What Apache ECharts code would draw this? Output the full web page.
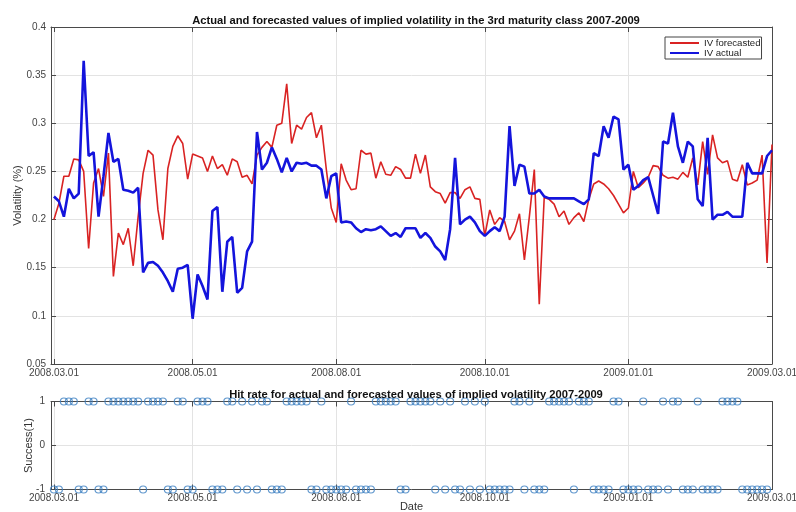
<!DOCTYPE html>
<html>
<head>
<meta charset="utf-8">
<script src="https://cdn.jsdelivr.net/npm/echarts@6/dist/echarts.min.js"></script>
<style>
  html, body { margin: 0; padding: 0; background: #ffffff; }
  #chart { width: 796px; height: 512px; }
</style>
</head>
<body>
<div id="chart"></div>
<script>
// Implied volatility, 3rd maturity class: forecast vs actual, one value per observation
const ivForecasted = [
  0.200, 0.217, 0.245, 0.245, 0.263, 0.262, 0.250, 0.170, 0.238, 0.253,
  0.224, 0.269, 0.141, 0.186, 0.174, 0.191, 0.152, 0.203, 0.248, 0.272,
  0.267, 0.210, 0.179, 0.253, 0.276, 0.287, 0.279, 0.242, 0.268, 0.266,
  0.264, 0.250, 0.266, 0.253, 0.257, 0.246, 0.263, 0.260, 0.244, 0.246,
  0.237, 0.267, 0.275, 0.281, 0.275, 0.298, 0.300, 0.341, 0.279, 0.298,
  0.294, 0.306, 0.311, 0.285, 0.298, 0.252, 0.212, 0.197, 0.258, 0.241,
  0.231, 0.232, 0.272, 0.268, 0.269, 0.243, 0.260, 0.247, 0.246, 0.255,
  0.252, 0.243, 0.243, 0.268, 0.248, 0.267, 0.234, 0.229, 0.227, 0.217,
  0.228, 0.228, 0.222, 0.231, 0.234, 0.222, 0.221, 0.183, 0.210, 0.195,
  0.202, 0.198, 0.179, 0.188, 0.206, 0.158, 0.203, 0.252, 0.112, 0.223,
  0.221, 0.216, 0.203, 0.209, 0.195, 0.202, 0.207, 0.198, 0.221, 0.237,
  0.240, 0.237, 0.232, 0.225, 0.216, 0.207, 0.212, 0.250, 0.233, 0.238,
  0.244, 0.256, 0.255, 0.246, 0.243, 0.244, 0.242, 0.249, 0.244, 0.264,
  0.236, 0.281, 0.247, 0.288, 0.264, 0.259, 0.261, 0.242, 0.240, 0.257,
  0.236, 0.238, 0.241, 0.267, 0.155, 0.278
];
const ivActual = [
  0.224, 0.219, 0.203, 0.232, 0.222, 0.227, 0.365, 0.266, 0.270, 0.203,
  0.245, 0.290, 0.260, 0.263, 0.231, 0.230, 0.228, 0.233, 0.145, 0.155,
  0.156, 0.152, 0.145, 0.136, 0.125, 0.149, 0.150, 0.153, 0.097, 0.143,
  0.131, 0.117, 0.209, 0.213, 0.125, 0.177, 0.182, 0.124, 0.129, 0.167,
  0.177, 0.291, 0.252, 0.259, 0.275, 0.263, 0.249, 0.264, 0.250, 0.259,
  0.258, 0.259, 0.256, 0.256, 0.252, 0.222, 0.245, 0.248, 0.197, 0.198,
  0.197, 0.191, 0.187, 0.190, 0.189, 0.190, 0.193, 0.188, 0.183, 0.186,
  0.182, 0.191, 0.191, 0.191, 0.181, 0.186, 0.181, 0.172, 0.167, 0.158,
  0.190, 0.264, 0.195, 0.200, 0.203, 0.197, 0.188, 0.183, 0.188, 0.192,
  0.188, 0.203, 0.297, 0.235, 0.257, 0.255, 0.227, 0.227, 0.231, 0.224,
  0.222, 0.222, 0.222, 0.222, 0.222, 0.222, 0.219, 0.216, 0.221, 0.269,
  0.266, 0.297, 0.285, 0.307, 0.304, 0.252, 0.257, 0.231, 0.235, 0.241,
  0.244, 0.225, 0.206, 0.281, 0.279, 0.311, 0.276, 0.259, 0.281, 0.276,
  0.221, 0.214, 0.285, 0.200, 0.205, 0.205, 0.208, 0.203, 0.203, 0.203,
  0.259, 0.248, 0.248, 0.248, 0.266, 0.272
];
// Direction hit (1) or miss (-1) per observation
const hitSuccess = [
  -1, -1,  1,  1,  1, -1, -1,  1,  1, -1,
  -1,  1,  1,  1,  1,  1,  1,  1, -1,  1,
   1,  1,  1, -1, -1,  1,  1, -1, -1,  1,
   1,  1, -1, -1, -1,  1,  1, -1,  1, -1,
   1, -1,  1,  1, -1, -1, -1,  1,  1,  1,
   1,  1, -1, -1,  1, -1, -1, -1, -1, -1,
   1, -1, -1, -1, -1,  1,  1,  1,  1,  1,
  -1, -1,  1,  1,  1,  1,  1, -1,  1, -1,
   1, -1, -1,  1, -1,  1, -1,  1, -1, -1,
  -1, -1, -1,  1,  1, -1,  1, -1, -1, -1,
   1,  1,  1,  1,  1, -1,  1,  1,  1, -1,
  -1, -1, -1,  1,  1, -1, -1, -1, -1,  1,
  -1, -1, -1,  1, -1,  1,  1, -1, -1, -1,
   1, -1, -1, -1, -1,  1,  1,  1,  1, -1,
  -1, -1, -1, -1, -1
];
// Date ticks placed on observation numbers
const xTickIndex = [0, 28, 57, 87, 116, 145];
const xTickLabels = ['2008.03.01', '2008.05.01', '2008.08.01', '2008.10.01', '2009.01.01', '2009.03.01'];
const hitTicks = [-1, 0, 1];

const FONT = 'Liberation Sans';
const AXIS_COLOR = '#4a4a4a';
const GRID_COLOR = '#e3e3e3';
const LABEL_COLOR = '#444';
const TICK_FONT = 10;

const xLabel = v => {
  const k = xTickIndex.indexOf(v);
  return k >= 0 ? xTickLabels[k] : '';
};
const yFmt = v => String(parseFloat(v.toFixed(2)));

const X_MIN = -0.6;
const X_MAX = xTickIndex[xTickIndex.length - 1];

function xAxisPair(gridIndex, withName) {
  return [
    {
      type: 'value', gridIndex, position: 'bottom', min: X_MIN, max: X_MAX,
      axisLine: { show: true, onZero: false, lineStyle: { color: AXIS_COLOR, width: 1 } },
      axisTick: { show: true, inside: true, length: 5, customValues: xTickIndex, lineStyle: { color: AXIS_COLOR } },
      axisLabel: { show: true, customValues: xTickIndex, formatter: xLabel, margin: 4,
                   hideOverlap: false, fontFamily: FONT, fontSize: TICK_FONT, color: LABEL_COLOR },
      splitLine: { show: true, lineStyle: { color: GRID_COLOR, width: 1 } },
      name: withName ? 'Date' : '', nameLocation: 'middle', nameGap: 12, nameMoveOverlap: false,
      nameTextStyle: { fontFamily: FONT, fontSize: 11, color: '#333' }
    },
    {
      type: 'value', gridIndex, position: 'top', min: X_MIN, max: X_MAX,
      axisLine: { show: true, onZero: false, lineStyle: { color: AXIS_COLOR, width: 1 } },
      axisTick: { show: true, inside: true, length: 5, customValues: xTickIndex, lineStyle: { color: AXIS_COLOR } },
      axisLabel: { show: false },
      splitLine: { show: false }
    }
  ];
}

const chart = echarts.init(document.getElementById('chart'), null, { renderer: 'canvas' });

chart.setOption({
  animation: false,
  backgroundColor: '#ffffff',
  title: [
    {
      text: 'Actual and forecasted values of implied volatility in the 3rd maturity class 2007-2009',
      left: 411, top: 10, textAlign: 'center',
      textStyle: { fontFamily: FONT, fontSize: 11.2, fontWeight: 'bold', color: '#111' }
    },
    {
      text: 'Hit rate for actual and forecasted values of implied volatility 2007-2009',
      left: 411, top: 384, textAlign: 'center',
      textStyle: { fontFamily: FONT, fontSize: 11.2, fontWeight: 'bold', color: '#111' }
    }
  ],
  legend: {
    data: ['IV forecasted', 'IV actual'],
    orient: 'vertical',
    left: 665, top: 37,
    padding: [1, 1, 1, 4],
    itemGap: 0,
    itemWidth: 29, itemHeight: 2,
    backgroundColor: '#ffffff',
    borderColor: '#444', borderWidth: 1,
    textStyle: { fontFamily: FONT, fontSize: 9.6, color: '#222', lineHeight: 9 }
  },
  grid: [
    { left: 51, top: 27, width: 721, height: 337, outerBoundsMode: 'none', containLabel: false },
    { left: 51, top: 401.5, width: 721, height: 88, outerBoundsMode: 'none', containLabel: false }
  ],
  xAxis: [...xAxisPair(0, false), ...xAxisPair(1, true)],
  yAxis: [
    {
      type: 'value', gridIndex: 0, position: 'left', min: 0.05, max: 0.4, interval: 0.05,
      axisLine: { show: true, onZero: false, lineStyle: { color: AXIS_COLOR, width: 1 } },
      axisTick: { show: true, inside: true, length: 5, lineStyle: { color: AXIS_COLOR } },
      axisLabel: { formatter: yFmt, margin: 5, fontFamily: FONT, fontSize: TICK_FONT, color: LABEL_COLOR },
      splitLine: { show: true, lineStyle: { color: GRID_COLOR, width: 1 } },
      name: 'Volatility (%)', nameLocation: 'middle', nameGap: 28, nameRotate: 90, nameMoveOverlap: false,
      nameTextStyle: { fontFamily: FONT, fontSize: 11, color: '#333' }
    },
    {
      type: 'value', gridIndex: 0, position: 'right', min: 0.05, max: 0.4, interval: 0.05,
      axisLine: { show: true, onZero: false, lineStyle: { color: AXIS_COLOR, width: 1 } },
      axisTick: { show: true, inside: true, length: 5, lineStyle: { color: AXIS_COLOR } },
      axisLabel: { show: false }, splitLine: { show: false }
    },
    {
      type: 'value', gridIndex: 1, position: 'left', min: hitTicks[0], max: hitTicks[2], interval: 1,
      axisLine: { show: true, onZero: false, lineStyle: { color: AXIS_COLOR, width: 1 } },
      axisTick: { show: true, inside: true, length: 5, lineStyle: { color: AXIS_COLOR } },
      axisLabel: { margin: 6, fontFamily: FONT, fontSize: TICK_FONT, color: LABEL_COLOR },
      splitLine: { show: true, lineStyle: { color: GRID_COLOR, width: 1 } },
      name: 'Success(1)', nameLocation: 'middle', nameGap: 17, nameRotate: 90, nameMoveOverlap: false,
      nameTextStyle: { fontFamily: FONT, fontSize: 11, color: '#333' }
    },
    {
      type: 'value', gridIndex: 1, position: 'right', min: hitTicks[0], max: hitTicks[2], interval: 1,
      axisLine: { show: true, onZero: false, lineStyle: { color: AXIS_COLOR, width: 1 } },
      axisTick: { show: true, inside: true, length: 5, lineStyle: { color: AXIS_COLOR } },
      axisLabel: { show: false }, splitLine: { show: false }
    }
  ],
  series: [
    {
      name: 'IV forecasted', type: 'line', xAxisIndex: 0, yAxisIndex: 0,
      data: ivForecasted.map((v, i) => [i, v]),
      symbol: 'none', color: '#d92323',
      lineStyle: { color: '#d92323', width: 1.6 }, z: 3
    },
    {
      name: 'IV actual', type: 'line', xAxisIndex: 0, yAxisIndex: 0,
      data: ivActual.map((v, i) => [i, v]),
      symbol: 'none', color: '#1414dc',
      lineStyle: { color: '#1414dc', width: 2.6 }, z: 4
    },
    {
      name: 'Hit', type: 'scatter', xAxisIndex: 2, yAxisIndex: 2,
      data: hitSuccess.map((v, i) => [i, v]),
      symbol: 'circle', symbolSize: 7, clip: false,
      itemStyle: { color: 'rgba(255,255,255,0)', borderColor: '#3c80c2', borderWidth: 1.2 },
      z: 5
    }
  ]
});
</script>
</body>
</html>
